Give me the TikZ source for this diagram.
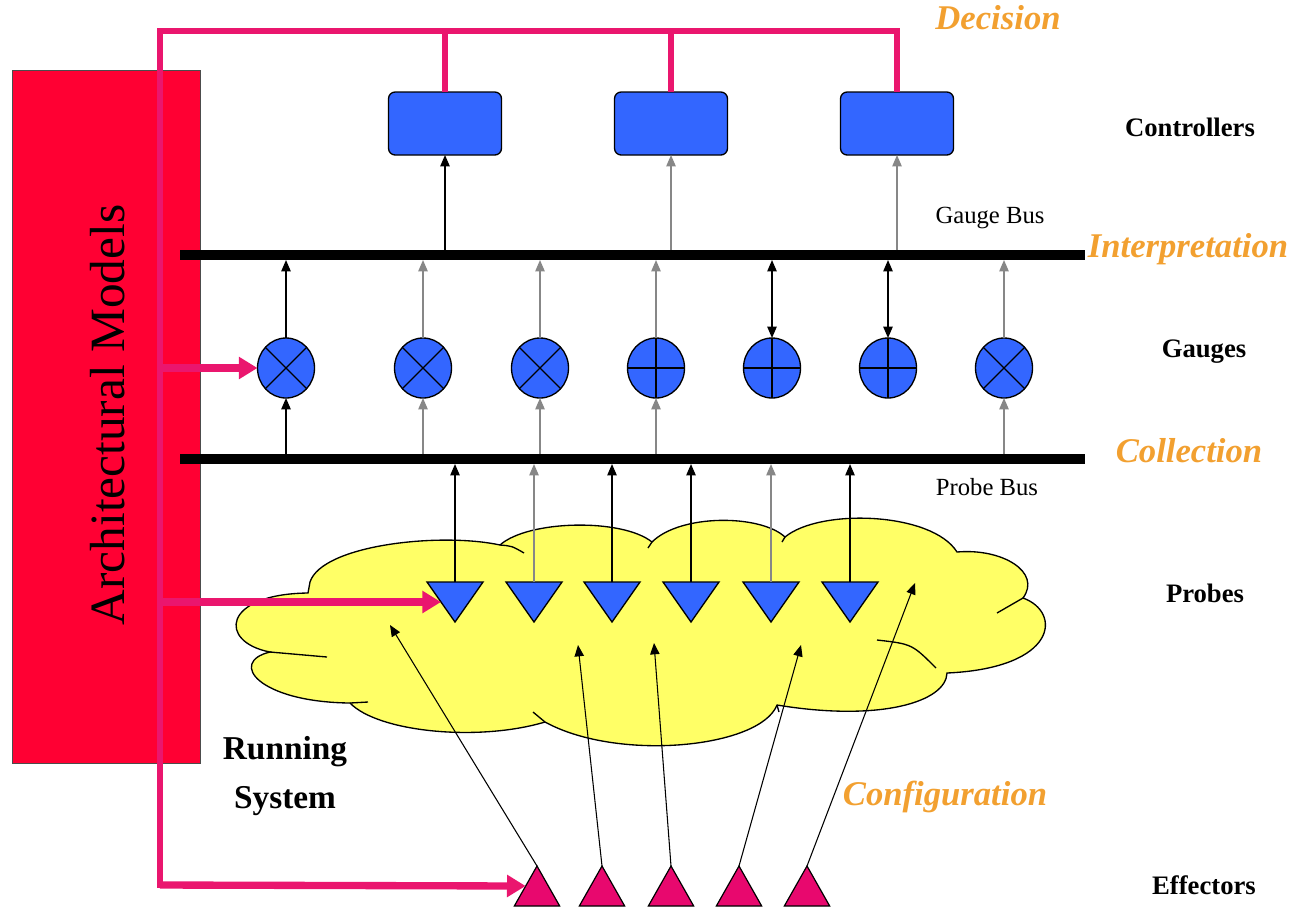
\documentclass[tikz,border=0pt]{standalone}
\usepackage{fontspec}
\setmainfont{Liberation Serif}
\usetikzlibrary{arrows.meta,shapes.geometric}

\definecolor{modelred}{RGB}{255,0,51}
\definecolor{linkpink}{RGB}{234,22,110}
\definecolor{partblue}{RGB}{51,102,255}
\definecolor{cloudyellow}{RGB}{255,255,102}
\definecolor{stageorange}{RGB}{242,160,48}
\definecolor{effpink}{RGB}{232,8,110}
\definecolor{wiregray}{RGB}{135,135,135}

\begin{document}
\begin{tikzpicture}[x=0.75pt,y=-0.75pt,
  tip/.style={-{Triangle[width=7pt,length=8.5pt]}},
  wire/.style={line width=1.1pt, tip},
  graywire/.style={wire, draw=wiregray},
  bothwire/.style={line width=1.1pt, {Triangle[width=7pt,length=8.5pt]}-{Triangle[width=7pt,length=8.5pt]}},
  bus/.style={line width=7.5pt},
  pinkwire/.style={draw=linkpink, line width=4.5pt},
  pinkarrow/.style={draw=linkpink, line width=5.5pt, -{Triangle[width=16pt,length=14pt]}},
  ctrlnode/.style={draw, line width=1pt, fill=partblue, rounded corners=5pt,
    minimum width=84.75pt, minimum height=47.25pt, inner sep=0pt, outer sep=0pt},
  gaugenode/.style={ellipse, draw, line width=1pt, fill=partblue,
    minimum width=42.75pt, minimum height=45pt, inner sep=0pt, outer sep=0pt},
  probenode/.style={isosceles triangle, isosceles triangle stretches,
    shape border rotate=270, draw, line width=1pt, fill=partblue,
    minimum width=42pt, minimum height=30pt, inner sep=0pt, outer sep=0pt, anchor=north},
  effnode/.style={isosceles triangle, isosceles triangle stretches,
    shape border rotate=90, draw, line width=0.9pt, fill=effpink,
    minimum width=34pt, minimum height=30pt, inner sep=0pt, outer sep=0pt, anchor=south},
  layer/.style={font=\bfseries\fontsize{20}{22}\selectfont},
  stage/.style={font=\bfseries\itshape\fontsize{26}{28}\selectfont, text=stageorange},
  buslabel/.style={font=\fontsize{18.5}{20}\selectfont}
]
\useasboundingbox (0,0) rectangle (1301,908);

% ---- architectural model block ----
\node[draw=black!70, line width=0.6pt, fill=modelred, minimum width=141pt,
  minimum height=519.75pt, inner sep=0pt] (models) at (106,416.5) {};
\node[rotate=90, font=\fontsize{37}{40}\selectfont] (modeltext) at (108,415) {Architectural Models};

% ---- running system cloud ----
\path[draw=black, line width=1pt, fill=cloudyellow]
  (310,582) .. controls (322,545) and (440,532) .. (500,545)
  .. controls (528,520) and (622,518) .. (652,542)
  .. controls (680,514) and (760,514) .. (785,537)
  .. controls (820,508) and (932,512) .. (957,552)
  .. controls (1002,548) and (1042,572) .. (1023,598)
  .. controls (1062,612) and (1058,668) .. (947,673)
  .. controls (946,702) and (880,722) .. (777,705)
  .. controls (760,748) and (618,762) .. (545,722)
  .. controls (478,742) and (378,732) .. (350,703)
  .. controls (258,702) and (228,662) .. (270,652)
  .. controls (218,642) and (222,594) .. (308,593)
  -- cycle;
% folds inside the cloud
\draw[line width=1pt] (500,545) .. controls (512,546) .. (524,553);
\draw[line width=1pt] (270,652) -- (327,657);
\draw[line width=1pt] (350,703) -- (368,702);
\draw[line width=1pt] (545,722) -- (533,712);
\draw[line width=1pt] (652,542) -- (648,548);
\draw[line width=1pt] (785,537) -- (782,542);
\draw[line width=1pt] (1023,598) -- (997,613);
\draw[line width=1pt] (877,640) .. controls (912,644) .. (936,668);
\draw[line width=1pt] (777,705) -- (779,712);

% ---- buses ----
\coordinate (gbtop) at (0,250);
\coordinate (gbbot) at (0,260);
\coordinate (pbtop) at (0,454);
\coordinate (pbbot) at (0,464);
\coordinate (gbL) at (180,255);
\coordinate (gbR) at (1085,255);
\coordinate (pbL) at (180,459);
\coordinate (pbR) at (1085,459);
\draw[bus] (gbL) -- (gbR);
\draw[bus] (pbL) -- (pbR);

% ---- controllers ----
\node[ctrlnode] (c1) at (445,123.5) {};
\node[ctrlnode] (c2) at (671,123.5) {};
\node[ctrlnode] (c3) at (897,123.5) {};

% ---- gauges ----
\foreach \n/\x in {1/286,2/423,3/540,4/656,5/772,6/888,7/1004}
  \node[gaugenode] (g\n) at (\x,368) {};
\foreach \n in {1,2,3,7}{
  \draw[line width=1pt] (g\n.45) -- (g\n.225);
  \draw[line width=1pt] (g\n.135) -- (g\n.315);
}
\foreach \n in {4,5,6}{
  \draw[line width=1pt] (g\n.north) -- (g\n.south);
  \draw[line width=1pt] (g\n.west) -- (g\n.east);
}

% ---- probes ----
\foreach \n/\x in {1/455,2/534,3/612,4/691,5/771,6/850}
  \node[probenode] (p\n) at (\x,582) {};

% ---- effectors ----
\foreach \n/\x in {1/537,2/602,3/671,4/739,5/807}
  \node[effnode] (e\n) at (\x,906) {};

% ---- gauge bus to controllers ----
\draw[wire] (c1 |- gbtop) -- (c1.south);
\draw[graywire] (c2 |- gbtop) -- (c2.south);
\draw[graywire] (c3 |- gbtop) -- (c3.south);

% ---- gauges to gauge bus ----
\draw[wire] (g1.north) -- (g1 |- gbbot);
\draw[graywire] (g2.north) -- (g2 |- gbbot);
\draw[graywire] (g3.north) -- (g3 |- gbbot);
\draw[graywire] (g4.north) -- (g4 |- gbbot);
\draw[bothwire] (g5.north) -- (g5 |- gbbot);
\draw[bothwire] (g6.north) -- (g6 |- gbbot);
\draw[graywire] (g7.north) -- (g7 |- gbbot);

% ---- probe bus to gauges ----
\draw[wire] (g1 |- pbtop) -- (g1.south);
\draw[graywire] (g2 |- pbtop) -- (g2.south);
\draw[graywire] (g3 |- pbtop) -- (g3.south);
\draw[graywire] (g4 |- pbtop) -- (g4.south);
\draw[graywire] (g7 |- pbtop) -- (g7.south);

% ---- probes to probe bus ----
\draw[wire] (p1.north) -- (p1 |- pbbot);
\draw[graywire] (p2.north) -- (p2 |- pbbot);
\draw[wire] (p3.north) -- (p3 |- pbbot);
\draw[wire] (p4.north) -- (p4 |- pbbot);
\draw[graywire] (p5.north) -- (p5 |- pbbot);
\draw[wire] (p6.north) -- (p6 |- pbbot);

% ---- effectors acting on the running system ----
\coordinate (t1) at (390,625);
\coordinate (t2) at (578,645);
\coordinate (t3) at (654,643);
\coordinate (t4) at (801,645);
\coordinate (t5) at (915,583);
\draw[line width=0.8pt, tip] (e1.apex) -- (t1);
\draw[line width=0.8pt, tip] (e2.apex) -- (t2);
\draw[line width=0.8pt, tip] (e3.apex) -- (t3);
\draw[line width=0.8pt, tip] (e4.apex) -- (t4);
\draw[line width=0.8pt, tip] (e5.apex) -- (t5);

% ---- decision feedback from the model ----
\coordinate (trunkTop) at (160,31);
\coordinate (trunkBot) at (160,885);
\draw[pinkwire] (trunkTop) -- (c3.north |- trunkTop) -- (c3.north);
\draw[pinkwire, line width=3.8pt] (c1.north |- trunkTop) -- (c1.north);
\draw[pinkwire, line width=3.8pt] (c2.north |- trunkTop) -- (c2.north);
\draw[pinkwire, line cap=rect] (trunkTop) -- (trunkBot);
\draw[pinkarrow] (trunkBot) -- (e1.left side);
\draw[pinkarrow] (trunkTop |- g1) -- (g1.west);
\draw[pinkarrow] (trunkTop |- p1.right side) -- (p1.right side);

% ---- labels ----
\node[layer] (lctrl) at (1190,127) {Controllers};
\node[layer] (lgauge) at (1204,352) {Gauges};
\node[layer] (lprobe) at (1205,593) {Probes};
\node[layer] (leff) at (1204,885) {Effectors};
\node[layer, font=\bfseries\fontsize{25}{37}\selectfont, align=center] (lrun) at (285,776) {Running\\System};
\node[stage] (sdec) at (998,18) {Decision};
\node[stage] (sint) at (1188,249) {Interpretation};
\node[stage] (scol) at (1189,451) {Collection};
\node[stage] (scfg) at (945,797) {Configuration};
\node[buslabel] (lgb) at (990,218) {Gauge Bus};
\node[buslabel] (lpb) at (987,487) {Probe Bus};
\end{tikzpicture}
\end{document}
